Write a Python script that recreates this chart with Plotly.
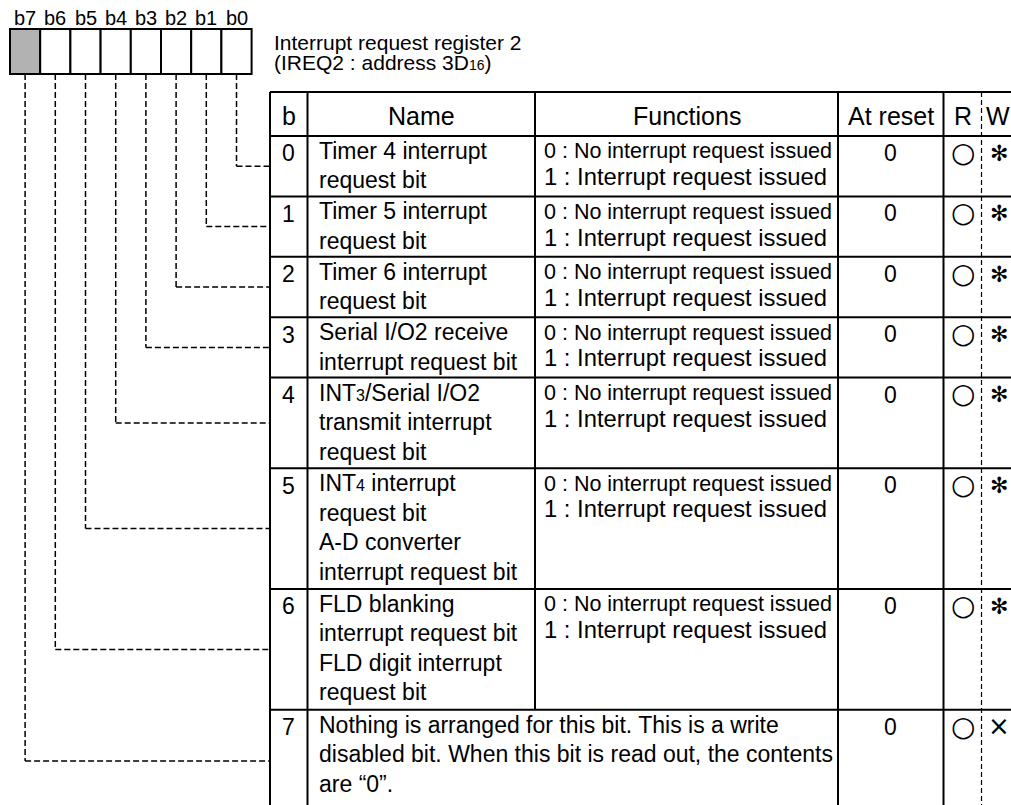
import plotly.graph_objects as go

# ---------------- data ----------------
bit_labels = ["b7", "b6", "b5", "b4", "b3", "b2", "b1", "b0"]
title_lines = ["Interrupt request register 2",
               "(IREQ2 : address 3D<span style='font-size:14px'>16</span>)"]
header = ["b", "Name", "Functions", "At reset", "R", "W"]
bit_numbers = ["0", "1", "2", "3", "4", "5", "6", "7"]
names = [
    ["Timer 4 interrupt", "request bit"],
    ["Timer 5 interrupt", "request bit"],
    ["Timer 6 interrupt", "request bit"],
    ["Serial I/O2 receive", "interrupt request bit"],
    ["INT<span style='font-size:16px'>3</span>/Serial I/O2", "transmit interrupt", "request bit"],
    ["INT<span style='font-size:16px'>4</span> interrupt", "request bit", "A-D converter", "interrupt request bit"],
    ["FLD blanking", "interrupt request bit", "FLD digit interrupt", "request bit"],
    [],
]
functions = [["0 : No interrupt request issued", "1 : Interrupt request issued"]] * 7 + [[]]
row7_text = ["Nothing is arranged for this bit. This is a write",
             "disabled bit. When this bit is read out, the contents",
             "are \u201c0\u201d."]
reset_values = ["0", "0", "0", "0", "0", "0", "0", "0"]
read_marks = ["\u25cb"] * 8
write_marks = ["\u273b"] * 7 + ["\u00d7"]
row_lines = [2, 2, 2, 2, 3, 4, 4, 3]

# ---------------- layout constants ----------------
W, H = 1011, 805
FONT = "Liberation Sans, Arial, Helvetica, sans-serif"
box_x0, cell_w, box_top, box_bot = 10, 30.2, 29, 74
col_x = [270, 307.5, 535, 838, 943.5, 981.5, 1015]
tbl_top, hdr_bot = 92, 136
pitch = 30.2
bottom = 812

shapes = []
ann = []


def line(x0, y0, x1, y1, width=2, dash=None, color="black"):
    d = dict(type="line", xref="x", yref="y", x0=x0, y0=y0, x1=x1, y1=y1,
             line=dict(color=color, width=width))
    if dash:
        d["line"]["dash"] = dash
    shapes.append(d)


def text(x, baseline, s, size, anchor="left", family=FONT):
    ann.append(dict(x=x, y=baseline - 0.35 * size, xref="x", yref="y", text=s,
                    showarrow=False, xanchor=anchor, yanchor="middle",
                    font=dict(family=family, size=size, color="black")))


# bit box
for i, lab in enumerate(bit_labels):
    x0 = box_x0 + i * cell_w
    shapes.append(dict(type="rect", xref="x", yref="y", x0=x0, x1=x0 + cell_w,
                       y0=box_top, y1=box_bot,
                       fillcolor="#b2b2b2" if i == 0 else "white",
                       line=dict(color="black", width=2)))
    text(x0 + cell_w / 2, 25, lab, 20, "center")

# title
text(272, 50, title_lines[0], 21)
text(272, 70, title_lines[1], 21)

# row boundaries
row_tops = []
y = hdr_bot
for n in row_lines:
    row_tops.append(y)
    y += n * pitch
row_bots = row_tops[1:] + [bottom]

# table lines
line(col_x[0], tbl_top, col_x[-1], tbl_top)
line(col_x[0], hdr_bot, col_x[-1], hdr_bot)
for yb in row_tops[1:]:
    line(col_x[0], yb, col_x[-1], yb)
for j, xc in enumerate(col_x[:-1]):
    if j == 5:
        line(xc, tbl_top, xc, bottom, width=1.2, dash="5px,3px")
    elif j == 2:
        line(xc, tbl_top, xc, row_tops[7])
    else:
        line(xc, tbl_top, xc, bottom)

# header text
hb = 125
text((col_x[0] + col_x[1]) / 2, hb, header[0], 25, "center")
text((col_x[1] + col_x[2]) / 2, hb, header[1], 25, "center")
text((col_x[2] + col_x[3]) / 2, hb, header[2], 25, "center")
text((col_x[3] + col_x[4]) / 2, hb, header[3], 25, "center")
text((col_x[4] + col_x[5]) / 2, hb, header[4], 25, "center")
text(984, hb, header[5], 25, "left")

# rows
for r in range(8):
    top = row_tops[r]
    b0 = top + 23
    text((col_x[0] + col_x[1]) / 2, b0 + 2.5, bit_numbers[r], 23, "center")
    for k, s in enumerate(names[r]):
        text(col_x[1] + 9, b0 + k * 29.5, s, 23)
    for k, s in enumerate(functions[r]):
        text(col_x[2] + 7, b0 + k * 26, s, 21.5 if k == 0 else 23.8)
    if r == 7:
        for k, s in enumerate(row7_text):
            text(col_x[1] + 9, b0 + k * 29.5, s, 23)
    text((col_x[3] + col_x[4]) / 2, b0 + 2, reset_values[r], 23, "center")
    text(963, b0 + 3, read_marks[r], 28, "center", "DejaVu Sans")
    text(999, b0 + 2, write_marks[r], 22 if r < 7 else 26, "center", "DejaVu Sans")

    # connector from bit box to row
    bit = r
    bx = box_x0 + (7 - bit) * cell_w + cell_w / 2
    cy = (top + row_bots[r]) / 2
    line(bx, box_bot, bx, cy, width=1.5, dash="6px,3px")
    line(bx, cy, col_x[0], cy, width=1.5, dash="6px,3px")

fig = go.Figure()
fig.update_layout(
    width=W, height=H, margin=dict(l=0, r=0, t=0, b=0),
    paper_bgcolor="white", plot_bgcolor="white",
    xaxis=dict(range=[0, W], visible=False, fixedrange=True),
    yaxis=dict(range=[H, 0], visible=False, fixedrange=True),
    shapes=shapes, annotations=ann, showlegend=False,
)
fig.write_html(
    "out.html",
    config={"displayModeBar": False},
    post_script="document.body.style.margin='0';document.body.style.overflow='hidden';",
)
